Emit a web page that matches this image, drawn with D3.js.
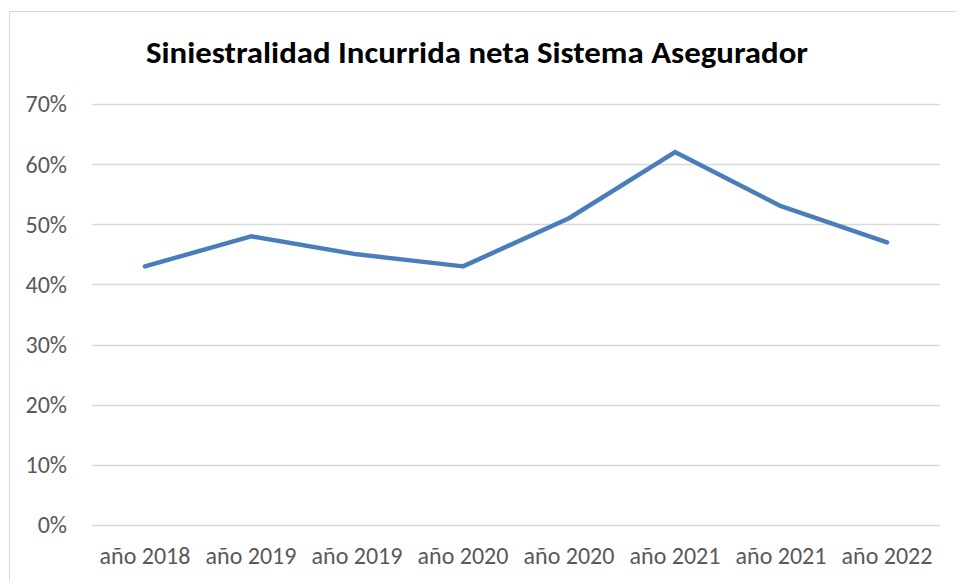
<!DOCTYPE html>
<html><head><meta charset="utf-8">
<script src="https://cdn.jsdelivr.net/npm/d3@7"></script>
<style>body{margin:0;background:#fff;} text{font-family:Carlito, Lato, "Open Sans", sans-serif;}</style>
</head><body>
<svg id="c" width="956" height="581"></svg>
<script>
const categories = ["año 2018","año 2019","año 2019","año 2020","año 2020","año 2021","año 2021","año 2022"];
const values = [43, 48, 45, 43, 51, 62, 53, 47];
const yTicks = [0,10,20,30,40,50,60,70];
const title = "Siniestralidad Incurrida neta Sistema Asegurador";

const svg = d3.select("#c");
svg.append("rect").attr("x",9.5).attr("y",11.5).attr("width",960).attr("height",600)
  .attr("fill","#fff").attr("stroke","#d9d9d9").attr("stroke-width",1);

const L=92, R=940, T=104, B=525;
const x = d3.scalePoint().domain(d3.range(categories.length)).range([L,R]).padding(0.5);
const y = d3.scaleLinear().domain([0,70]).range([B,T]);

svg.append("g").selectAll("line").data(yTicks).join("line")
  .attr("x1",L).attr("x2",R).attr("y1",d=>Math.round(y(d))+0.5).attr("y2",d=>Math.round(y(d))+0.5)
  .attr("stroke","#d9d9d9").attr("stroke-width",1.3);

svg.append("g").selectAll("text").data(yTicks).join("text")
  .attr("x",67).attr("y",d=>y(d)).attr("dy","0.35em").attr("text-anchor","end")
  .attr("fill","#595959").style("font-size","24px").text(d=>d+"%");

svg.append("g").selectAll("text").data(categories).join("text")
  .attr("x",(d,i)=>x(i)).attr("y",556).attr("dy","0.35em").attr("text-anchor","middle")
  .attr("fill","#595959").style("font-size","24px").text(d=>d);

svg.append("path").datum(values)
  .attr("d", d3.line().x((d,i)=>x(i)).y(d=>y(d)))
  .attr("fill","none").attr("stroke","#4a7ebb").attr("stroke-width",4.5)
  .attr("stroke-linejoin","round").attr("stroke-linecap","round");

svg.append("text").attr("x",477).attr("y",52).attr("dy","0.35em").attr("text-anchor","middle")
  .attr("fill","#000").style("font-size","31px").style("font-weight","bold")
  .attr("textLength",662).attr("lengthAdjust","spacingAndGlyphs").text(title);
</script>
</body></html>
